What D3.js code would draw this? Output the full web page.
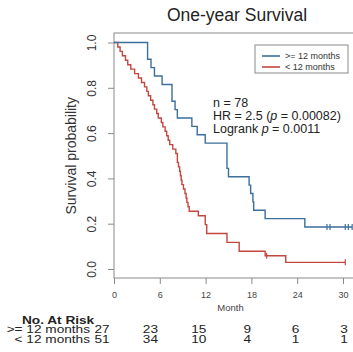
<!DOCTYPE html>
<html>
<head>
<meta charset="utf-8">
<script src="https://cdn.jsdelivr.net/npm/d3@7"></script>
<style>
  html, body { margin: 0; padding: 0; background: #fff; }
  svg { display: block; font-family: "Liberation Sans", Arial, sans-serif; }
</style>
</head>
<body>
<svg id="chart" width="353" height="352"></svg>
<script>
// Follow-up times (months) and status (1 = death, 0 = censored) per group
const groupNames = [">= 12 months", "< 12 months"];
const longTimes = [4.4, 4.4, 4.85, 5.3, 6.3, 7.6, 7.6, 8.0, 8.3, 10.2, 10.9, 11.95,
  14.8, 14.8, 14.8, 15.0, 17.7, 17.9, 18.2, 18.3, 19.8, 25.0, 27.9, 28.3, 30.3, 30.7, 31.2];
const longStatus = [1, 1, 1, 1, 1, 1, 1, 1, 1, 1, 1, 1,
  1, 1, 1, 1, 1, 1, 1, 1, 1, 1, 0, 0, 0, 0, 0];
const shortTimes = [0.5, 0.8, 1.1, 1.5, 1.8, 2.2, 2.7, 3.2, 3.6, 4.0, 4.3, 4.5, 4.8, 5.1,
  5.3, 5.6, 5.8, 6.2, 6.4, 6.7, 6.9, 7.1, 7.3, 7.7, 8.1, 8.3, 8.3, 8.45, 8.6, 8.7, 8.8,
  8.9, 9.1, 9.3, 9.45, 9.55, 9.7, 9.85, 11.05, 11.95, 11.95, 12.15, 12.15, 14.8, 14.8,
  16.4, 16.4, 19.8, 20.0, 22.5, 30.3];
const shortStatus = [1, 1, 1, 1, 1, 1, 1, 1, 1, 1, 1, 1, 1, 1,
  1, 1, 1, 1, 1, 1, 1, 1, 1, 1, 1, 1, 1, 1, 1, 1, 1,
  1, 1, 1, 1, 1, 1, 1, 1, 1, 1, 1, 1, 1, 1,
  1, 1, 1, 0, 1, 0];
const groupColors = ["#3b6f9c", "#c4473f"];

// Axis ticks and risk table
const monthTicks = [0, 6, 12, 18, 24, 30];
const probTicks = [0, 0.2, 0.4, 0.6, 0.8, 1.0];
const atRiskLong = [27, 23, 15, 9, 6, 3];
const atRiskShort = [51, 34, 10, 4, 1, 1];

const statLines = ["n = 78", "HR = 2.5  (", "Logrank "];

const svg = d3.select("#chart");
const x = d3.scaleLinear().domain([0, 30]).range([114, 343]);
const y = d3.scaleLinear().domain([0, 1]).range([269, 42.5]);
const frame = { left: 114, right: 362, top: 33, bottom: 278 };
const axisGrey = "#8a8a8a";

// Kaplan–Meier estimate -> step points and censor marks
function kaplanMeier(times, status) {
  const rows = times.map((t, i) => ({ t, s: status[i] })).sort((a, b) => a.t - b.t);
  let atRisk = rows.length, surv = 1;
  const pts = [[0, 1]], cens = [];
  let i = 0;
  while (i < rows.length) {
    const t = rows[i].t;
    let d = 0, c = 0;
    while (i < rows.length && rows[i].t === t) { if (rows[i].s) d++; else c++; i++; }
    if (d > 0) {
      pts.push([t, surv]);
      surv *= (1 - d / atRisk);
      pts.push([t, surv]);
    }
    if (c > 0) cens.push([t, surv]);
    atRisk -= d + c;
  }
  pts.push([rows[rows.length - 1].t, surv]);
  return { pts, cens };
}

const groups = [
  kaplanMeier(longTimes, longStatus),
  kaplanMeier(shortTimes, shortStatus)
];

// Frame
svg.append("clipPath").attr("id", "plotClip").append("rect")
  .attr("x", frame.left).attr("y", frame.top)
  .attr("width", frame.right - frame.left).attr("height", frame.bottom - frame.top);
svg.append("rect")
  .attr("x", frame.left).attr("y", frame.top)
  .attr("width", frame.right - frame.left).attr("height", frame.bottom - frame.top)
  .attr("fill", "none").attr("stroke", axisGrey).attr("stroke-width", 1);

// Y axis
const yAxis = d3.axisLeft(y).tickValues(probTicks).tickSize(6).tickFormat(d3.format(".1f"));
const gy = svg.append("g").attr("transform", `translate(${frame.left},0)`).call(yAxis);
gy.select(".domain").remove();
gy.selectAll(".tick line").attr("stroke", axisGrey);
gy.selectAll(".tick text")
  .attr("transform", "translate(-22,0) rotate(-90)")
  .attr("x", 0).attr("y", 0).attr("dy", "0.35em")
  .attr("text-anchor", "middle")
  .attr("font-size", 12).attr("fill", "#333")
  .attr("font-family", "Liberation Sans, Arial, sans-serif");

// X axis
const xAxis = d3.axisBottom(x).tickValues(monthTicks).tickSize(6).tickPadding(8);
const gx = svg.append("g").attr("transform", `translate(0,${frame.bottom})`).call(xAxis);
gx.select(".domain").remove();
gx.selectAll(".tick line").attr("stroke", axisGrey);
gx.selectAll(".tick text").attr("font-size", 9).attr("fill", "#444")
  .attr("font-family", "Liberation Sans, Arial, sans-serif");

svg.append("text").attr("x", x(15) + 2).attr("y", 311)
  .attr("text-anchor", "middle").attr("font-size", 9.5).attr("fill", "#444")
  .text("Month");

// Titles
svg.append("text").attr("x", 237).attr("y", 21)
  .attr("text-anchor", "middle").attr("font-size", 17.5).attr("fill", "#222")
  .text("One-year Survival");
svg.append("text")
  .attr("transform", `translate(76,${y(0.5)}) rotate(-90)`)
  .attr("text-anchor", "middle").attr("font-size", 14).attr("fill", "#333")
  .text("Survival probability");

// Survival curves (short-survival group underneath)
const line = d3.line().x(d => x(d[0])).y(d => y(d[1]));
const plot = svg.append("g").attr("clip-path", "url(#plotClip)");
[1, 0].forEach(gi => {
  const g = groups[gi];
  plot.append("path").datum(g.pts).attr("d", line)
    .attr("fill", "none").attr("stroke", groupColors[gi]).attr("stroke-width", 1.4);
  plot.selectAll(null).data(g.cens).enter().append("line")
    .attr("x1", d => x(d[0])).attr("x2", d => x(d[0]))
    .attr("y1", d => y(d[1]) - 3).attr("y2", d => y(d[1]) + 3)
    .attr("stroke", groupColors[gi]).attr("stroke-width", 1.2);
});

// Legend
const lg = svg.append("g");
lg.append("rect").attr("x", 255).attr("y", 45).attr("width", 93).attr("height", 28)
  .attr("fill", "#fff").attr("stroke", axisGrey).attr("stroke-width", 1);
groupNames.forEach((name, i) => {
  const ly = 56 + i * 11;
  lg.append("line").attr("x1", 262).attr("x2", 280).attr("y1", ly).attr("y2", ly)
    .attr("stroke", groupColors[i]).attr("stroke-width", 1.6);
  lg.append("text").attr("x", 285).attr("y", ly).attr("dy", "0.35em")
    .attr("font-size", 9).attr("fill", "#333").text(name);
});

// Model statistics
const st = svg.append("g").attr("font-size", 12.5).attr("fill", "#222");
st.append("text").attr("x", 213).attr("y", 107).text(statLines[0]);
const hr = st.append("text").attr("x", 213).attr("y", 120);
hr.append("tspan").text(statLines[1]);
hr.append("tspan").attr("font-style", "italic").text("p");
hr.append("tspan").text(" = 0.00082)");
const lr = st.append("text").attr("x", 213).attr("y", 133);
lr.append("tspan").text(statLines[2]);
lr.append("tspan").attr("font-style", "italic").text("p");
lr.append("tspan").text(" = 0.0011");

// Numbers at risk (tight rows, horizontally widened type)
const riskX = d3.scaleLinear().domain([0, 30]).range([102, 344]);
const riskFont = 10.5;
const widen = (sx, sy) => `translate(${sx},${sy}) scale(1.3,1)`;
svg.append("text").attr("transform", widen(22, 323.5))
  .attr("font-size", riskFont).attr("font-weight", "bold").attr("fill", "#222")
  .text("No. At Risk");
[atRiskLong, atRiskShort].forEach((row, i) => {
  const ry = 333 + i * 9.5;
  svg.append("text").attr("transform", widen(90, ry)).attr("text-anchor", "end")
    .attr("font-size", riskFont).attr("fill", "#222").text(groupNames[i]);
  svg.selectAll(null).data(row).enter().append("text")
    .attr("transform", (d, j) => widen(riskX(monthTicks[j]), ry))
    .attr("text-anchor", "middle").attr("font-size", riskFont).attr("fill", "#222")
    .text(d => d);
});
</script>
</body>
</html>
